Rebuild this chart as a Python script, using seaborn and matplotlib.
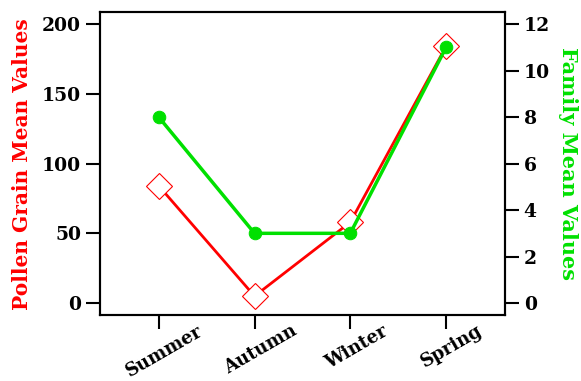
import matplotlib
matplotlib.use('Agg')
import matplotlib.pyplot as plt
import matplotlib.transforms as mtransforms
import seaborn as sns
import pandas as pd

seasons = ['Summer', 'Autumn', 'Winter', 'Spring']
pollen_mean = [84, 5, 58, 184]
family_mean = [8, 3, 3, 11]

df = pd.DataFrame({'Season': seasons, 'Pollen': pollen_mean, 'Family': family_mean})

sns.set_style('ticks')
plt.rcParams['font.family'] = ['DejaVu Serif']
plt.rcParams['font.weight'] = 'bold'

red = '#ff0000'
green = '#00e000'

fig, ax = plt.subplots(figsize=(5.81, 3.81), dpi=100)
fig.subplots_adjust(left=0.172, right=0.869, top=0.968, bottom=0.173)

sns.lineplot(data=df, x='Season', y='Pollen', ax=ax, sort=False, color=red,
             linewidth=2, marker='D', markersize=13, markerfacecolor='white',
             markeredgecolor=red, markeredgewidth=0.8)
ax2 = ax.twinx()
sns.lineplot(data=df, x='Season', y='Family', ax=ax2, sort=False, color=green,
             linewidth=2.5, marker='o', markersize=9, markerfacecolor=green,
             markeredgecolor=green)

ax.set_xlim(-0.615, 3.615)
ax.set_ylim(-8.6, 208.6)
ax2.set_ylim(-0.52, 12.52)
ax.set_yticks([0, 50, 100, 150, 200])
ax2.set_yticks([0, 2, 4, 6, 8, 10, 12])

ax.set_xlabel('')
ax.set_ylabel('Pollen Grain Mean Values', color=red, fontsize=14.5, fontweight='bold', labelpad=7)
ax2.set_ylabel('Family Mean Values', color=green, fontsize=15, fontweight='bold',
               rotation=270, va='bottom', labelpad=6)

for a in (ax, ax2):
    for s in a.spines.values():
        s.set_linewidth(1.5)
        s.set_color('black')
ax.tick_params(axis='both', length=10, width=1.5, labelsize=13.5, direction='out',
               colors='black')
ax.tick_params(axis='x', labelsize=13, pad=0)
ax2.tick_params(axis='y', length=10, width=1.5, labelsize=13.5, direction='out',
                colors='black')
shift = mtransforms.ScaledTranslation(0.06, 0.07, fig.dpi_scale_trans)
for lbl in ax.get_xticklabels():
    lbl.set_rotation(30)
    lbl.set_ha('center')
    lbl.set_fontweight('bold')
    lbl.set_transform(lbl.get_transform() + shift)
plt.setp(ax.get_yticklabels(), fontweight='bold')
plt.setp(ax2.get_yticklabels(), fontweight='bold')

fig.savefig('out.png', dpi=100)
